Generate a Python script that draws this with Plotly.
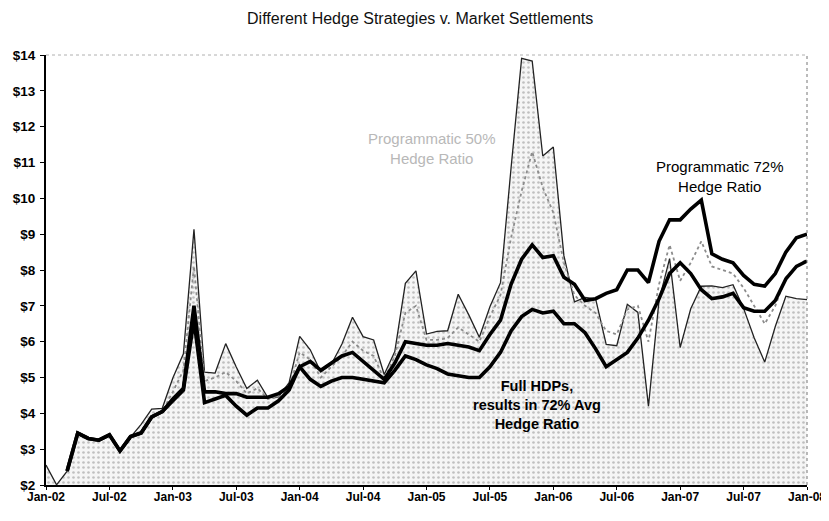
import plotly.graph_objects as go

# ---- data ----
month_labels = [f"{m}-{y:02d}" for y in range(2, 9) for m in
                ["Jan", "Feb", "Mar", "Apr", "May", "Jun", "Jul", "Aug", "Sep", "Oct", "Nov", "Dec"]][:73]

tick_labels = ["Jan-02", "Jul-02", "Jan-03", "Jul-03", "Jan-04", "Jul-04", "Jan-05",
               "Jul-05", "Jan-06", "Jul-06", "Jan-07", "Jul-07", "Jan-08"]

market = [2.555, 2.006, 2.388, 3.472, 3.319, 3.228, 3.377, 2.961, 3.338, 3.689, 4.120, 4.140,
          4.988, 5.660, 9.133, 5.146, 5.123, 5.945, 5.291, 4.693, 4.927, 4.430, 4.459, 4.860,
          6.150, 5.775, 5.150, 5.365, 5.935, 6.680, 6.141, 6.048, 5.082, 5.723, 7.626, 7.976,
          6.213, 6.288, 6.304, 7.323, 6.748, 6.123, 6.976, 7.647, 10.847, 13.907, 13.832, 11.180,
          11.431, 8.400, 7.112, 7.233, 7.198, 5.925, 5.887, 7.042, 6.816, 4.201, 7.153, 8.318,
          5.838, 6.917, 7.547, 7.558, 7.508, 7.591, 6.929, 6.110, 5.430, 6.423, 7.269, 7.203,
          7.172]

prog50 = [None, None, 2.39, 3.45, 3.30, 3.25, 3.40, 2.95, 3.35, 3.45, 3.90, 4.05,
          4.60, 5.20, 8.10, 4.90, 5.00, 5.15, 4.90, 4.55, 4.70, 4.40, 4.45, 4.70,
          5.70, 5.50, 5.00, 5.30, 5.60, 6.00, 5.75, 5.60, 4.95, 5.60, 6.80, 7.00,
          6.05, 6.05, 6.10, 6.40, 6.20, 6.00, 6.70, 7.30, 8.90, 10.20, 11.30, 10.30,
          9.60, 8.20, 7.30, 7.00, 6.80, 6.30, 6.20, 6.90, 7.00, 6.00, 7.60, 8.70,
          7.70, 8.20, 8.80, 8.10, 8.00, 7.90, 7.50, 7.00, 6.50, 7.00, 7.80, 8.10,
          8.30]

prog72 = [None, None, 2.39, 3.45, 3.30, 3.25, 3.40, 2.95, 3.35, 3.45, 3.90, 4.05,
          4.40, 4.70, 7.00, 4.60, 4.60, 4.55, 4.55, 4.45, 4.45, 4.45, 4.55, 4.75,
          5.30, 5.45, 5.20, 5.40, 5.60, 5.70, 5.45, 5.20, 4.95, 5.40, 6.00, 5.95,
          5.90, 5.90, 5.95, 5.90, 5.85, 5.75, 6.20, 6.60, 7.60, 8.30, 8.70, 8.35,
          8.40, 7.80, 7.60, 7.15, 7.20, 7.35, 7.45, 8.00, 8.00, 7.65, 8.80, 9.40,
          9.40, 9.70, 9.95, 8.45, 8.30, 8.20, 7.85, 7.60, 7.55, 7.90, 8.50, 8.90,
          9.00]

full_hdp = [None, None, 2.39, 3.45, 3.30, 3.25, 3.40, 2.95, 3.35, 3.45, 3.90, 4.05,
            4.35, 4.65, 6.60, 4.30, 4.40, 4.50, 4.20, 3.95, 4.15, 4.15, 4.35, 4.65,
            5.30, 4.95, 4.75, 4.90, 5.00, 5.00, 4.95, 4.90, 4.85, 5.20, 5.60, 5.50,
            5.35, 5.25, 5.10, 5.05, 5.00, 5.00, 5.30, 5.70, 6.30, 6.70, 6.90, 6.80,
            6.85, 6.50, 6.50, 6.25, 5.80, 5.30, 5.50, 5.70, 6.10, 6.60, 7.20, 7.90,
            8.20, 7.90, 7.45, 7.20, 7.25, 7.35, 6.95, 6.85, 6.85, 7.15, 7.75, 8.10,
            8.25]

x = list(range(len(month_labels)))
tick_pos = [month_labels.index(t) for t in tick_labels]

fig = go.Figure()

fig.add_trace(go.Scatter(
    x=x, y=market, mode="lines", name="Market Settlements",
    line=dict(color="#222222", width=1.3),
    fill="tozeroy", fillcolor="#f2f2f2",
    fillpattern=dict(shape=".", fgcolor="#8a8a8a", bgcolor="#f5f5f5", size=5, solidity=0.22),
))
fig.add_trace(go.Scatter(
    x=x, y=prog50, mode="lines", name="Programmatic 50%",
    line=dict(color="#8c8c8c", width=1.8, dash="dot"),
))
fig.add_trace(go.Scatter(
    x=x, y=full_hdp, mode="lines", name="Full HDPs",
    line=dict(color="#000000", width=3.6),
))
fig.add_trace(go.Scatter(
    x=x, y=prog72, mode="lines", name="Programmatic 72%",
    line=dict(color="#000000", width=3.6),
))

# page body adds an 8px margin: figure sized so everything lands in the 829x521 window
fig.update_layout(
    width=821, height=500,
    margin=dict(l=38, r=22, t=47, b=23),
    paper_bgcolor="white", plot_bgcolor="white",
    showlegend=False,
    title=dict(text="Different Hedge Strategies v. Market Settlements",
               x=0.502, xanchor="center", y=0.98, yanchor="middle",
               font=dict(family="Liberation Sans, Arial", size=16, color="#111111")),
    font=dict(family="Liberation Sans, Arial", color="#000000"),
)

fig.update_xaxes(
    range=[0, 72], tickmode="array", tickvals=tick_pos, ticktext=tick_labels,
    automargin=False, ticklabeloverflow="allow",
    showgrid=False, zeroline=False, showline=True, linecolor="#000000", linewidth=2,
    ticks="outside", ticklen=3, tickcolor="#000000", ticklabelstandoff=-3,
    tickfont=dict(size=12, weight="bold", color="#000000"),
)
fig.update_yaxes(
    range=[2, 14], dtick=1, tickprefix="$", tickformat="d",
    automargin=False,
    showgrid=False, zeroline=False, showline=True, linecolor="#000000", linewidth=2,
    ticks="outside", ticklen=4, tickcolor="#000000", ticklabelstandoff=2,
    tickfont=dict(size=13.5, weight="bold", color="#000000"),
)

# faint dotted frame top/right
fig.add_shape(type="line", xref="paper", yref="paper", x0=0, x1=1, y0=1, y1=1,
              line=dict(color="#b0b0b0", width=1, dash="dot"))
fig.add_shape(type="line", xref="paper", yref="paper", x0=1, x1=1, y0=0, y1=1,
              line=dict(color="#777777", width=1, dash="dot"))

fig.add_annotation(x=36.5, y=11.38, xref="x", yref="y",
                   text="Programmatic 50%<br>Hedge Ratio", showarrow=False,
                   font=dict(size=15, color="#b8b8b8"))
fig.add_annotation(x=63.8, y=10.6, xref="x", yref="y",
                   text="Programmatic 72%<br>Hedge Ratio", showarrow=False,
                   font=dict(size=15, color="#000000"))
fig.add_annotation(x=46.5, y=4.22, xref="x", yref="y",
                   text="<b>Full HDPs,<br>results in 72% Avg<br>Hedge Ratio</b>",
                   showarrow=False, font=dict(size=14.5, color="#000000"))

fig.write_html("out.html")
